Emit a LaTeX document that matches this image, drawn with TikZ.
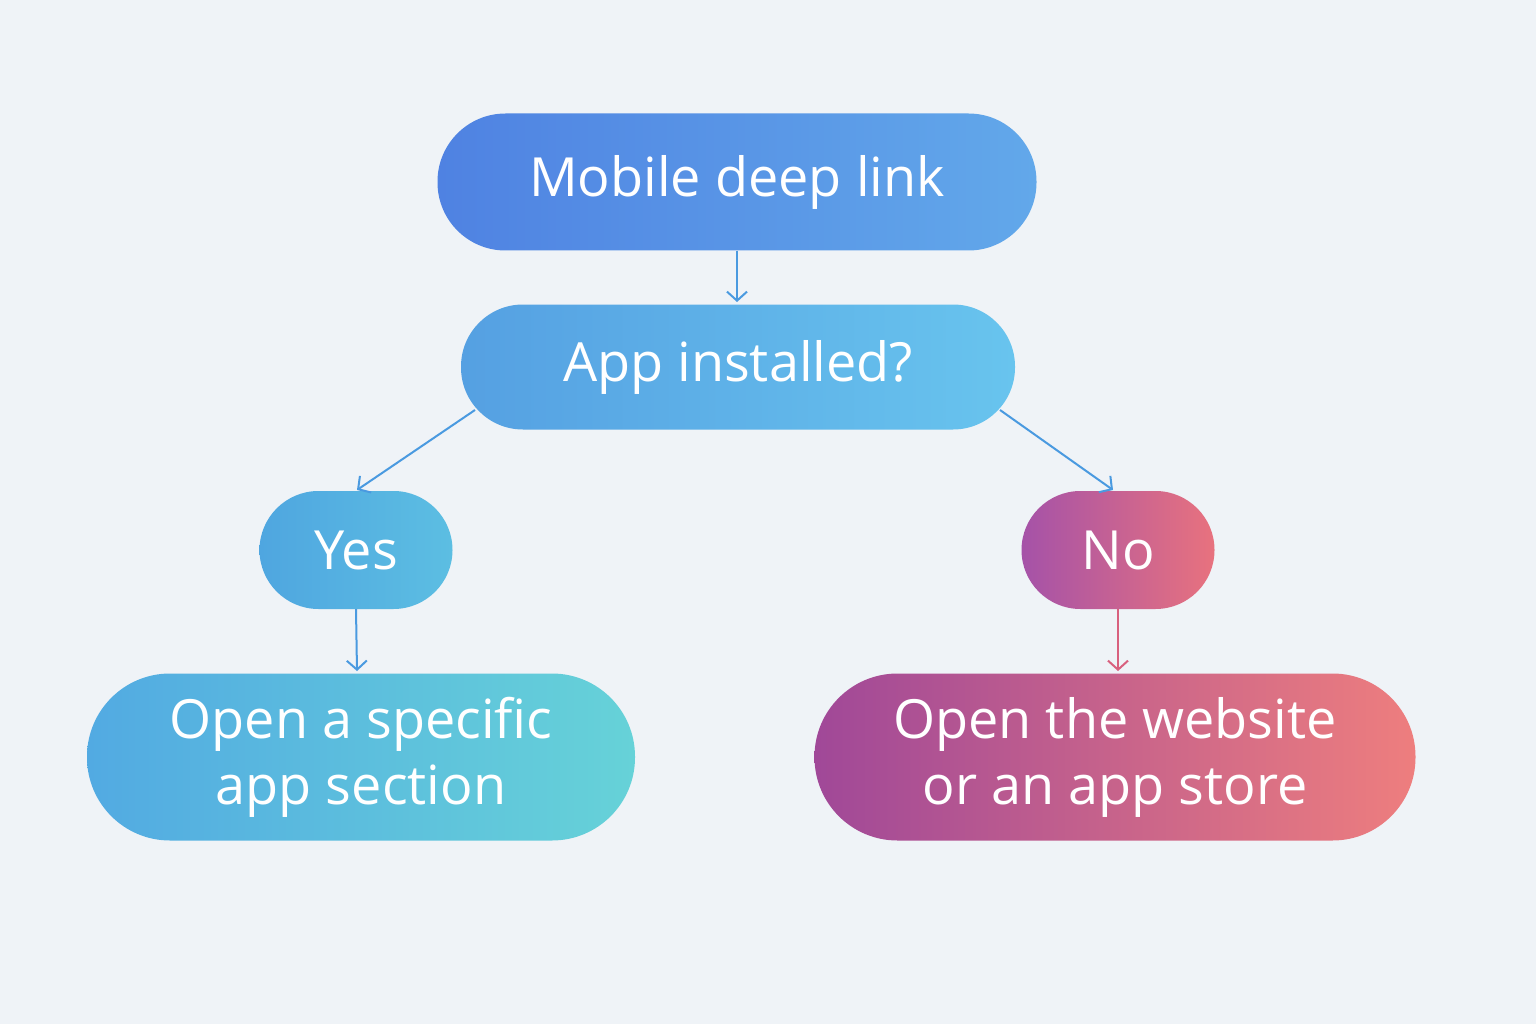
\documentclass[tikz,border=0pt]{standalone}
\usepackage{fontspec}
\setmainfont{Open Sans}
\usetikzlibrary{arrows.meta}
\definecolor{bg}{HTML}{EFF3F7}
\definecolor{blueA}{HTML}{4F82E2}\definecolor{blueB}{HTML}{62A8EA}
\definecolor{appA}{HTML}{55A0E2}\definecolor{appB}{HTML}{68C4EE}
\definecolor{yesA}{HTML}{4FA6E0}\definecolor{yesB}{HTML}{5CBEE2}
\definecolor{secA}{HTML}{52AAE2}\definecolor{secB}{HTML}{66D2D8}
\definecolor{noA}{HTML}{A552A8}\definecolor{noB}{HTML}{E8727E}
\definecolor{webA}{HTML}{A04898}\definecolor{webB}{HTML}{EE7E7E}
\definecolor{arrB}{HTML}{4A9AE0}\definecolor{arrP}{HTML}{D8607E}
\tikzset{
 pill/.style={rounded corners=#1, text=white, align=center, inner sep=0pt},
 conn/.style={line width=2pt,-{Straight Barb[length=9pt,width=20pt]}},
}
\begin{document}
\begin{tikzpicture}[x=1pt,y=-1pt]
\fill[bg] (0,0) rectangle (1536,1024);
\useasboundingbox (0,0) rectangle (1536,1024);
\node[pill=68pt, minimum width=599pt, minimum height=137pt, left color=blueA, right color=blueB, font=\fontsize{54}{60}\selectfont] (m) at (737,182) {Mobile deep link};
\node[pill=62pt, minimum width=554pt, minimum height=125pt, left color=appA, right color=appB, font=\fontsize{54}{60}\selectfont] (a) at (738,367) {App installed?};
\node[pill=59pt, minimum width=193pt, minimum height=118pt, left color=yesA, right color=yesB, font=\fontsize{54}{60}\selectfont] (y) at (356,550) {Yes};
\node[pill=59pt, minimum width=193pt, minimum height=118pt, left color=noA, right color=noB, font=\fontsize{54}{60}\selectfont] (n) at (1118,550) {No};
\node[pill=83pt, minimum width=548pt, minimum height=167pt, left color=secA, right color=secB, font=\fontsize{54}{66}\selectfont] (s) at (361,757) {Open a specific\\app section};
\node[pill=83pt, minimum width=601pt, minimum height=167pt, left color=webA, right color=webB, font=\fontsize{54}{66}\selectfont] (w) at (1115,757) {Open the website\\or an app store};
\draw[conn, arrB] (m.south) -- (737,302);
\coordinate (al) at (475,410); \coordinate (ar) at (1000,410);
\draw[conn, arrB] (al) -- (357,490);
\draw[conn, arrB] (ar) -- (1113,490);
\draw[conn, arrB] (y.south) -- (357,671);
\draw[conn, arrP] (n.south) -- (1118,671);
\end{tikzpicture}
\end{document}
